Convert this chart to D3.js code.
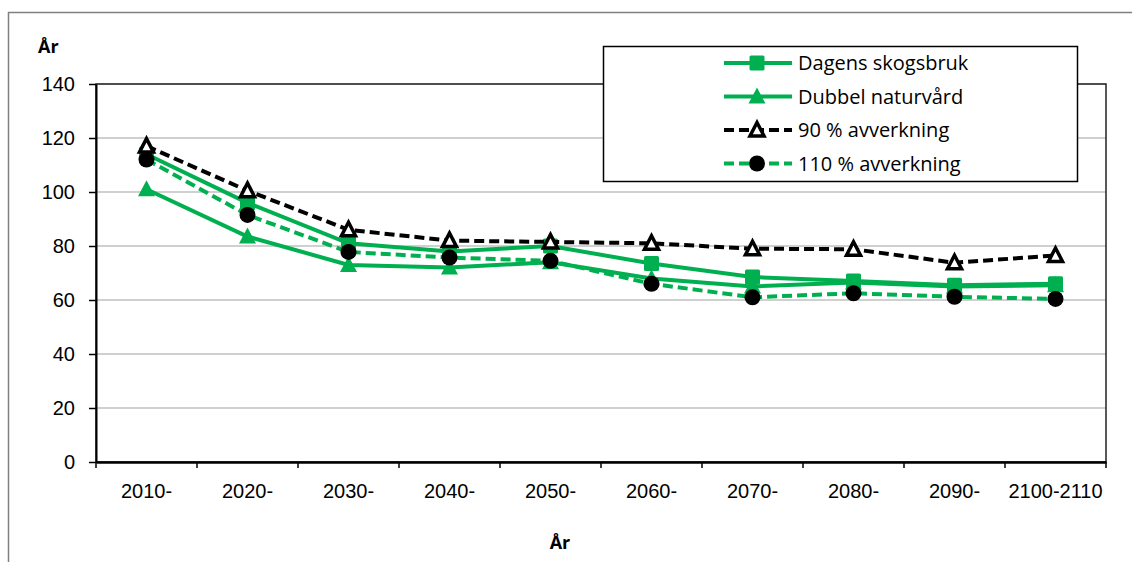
<!DOCTYPE html>
<html>
<head>
<meta charset="utf-8">
<script src="https://cdn.jsdelivr.net/npm/d3@7"></script>
<style>
  body { margin: 0; background: #fff; }
  svg { font-family: "Open Sans", sans-serif; }
</style>
</head>
<body>
<svg id="chart"></svg>
<script>
// kategorier och serier
const categories = ["2010-", "2020-", "2030-", "2040-", "2050-", "2060-", "2070-", "2080-", "2090-", "2100-2110"];
const dagensSkogsbruk = [114, 96, 81, 78, 80, 73.5, 68.5, 67, 65.5, 66];
const dubbelNaturvard = [101, 83.5, 73, 72, 74, 68, 65, 66.5, 65, 65.5];
const avverkning90 = [117, 100.5, 86, 82, 81.5, 81, 79, 78.8, 73.8, 76.5];
const avverkning110 = [112, 91.5, 77.8, 75.7, 74.5, 66, 61, 62.5, 61.2, 60.4];
const yTicks = [0, 20, 40, 60, 80, 100, 120, 140];

const series = [
  { name: "Dagens skogsbruk", values: dagensSkogsbruk, color: "#00b050", dash: null, marker: "square" },
  { name: "Dubbel naturvård", values: dubbelNaturvard, color: "#00b050", dash: null, marker: "triangle" },
  { name: "90 % avverkning", values: avverkning90, color: "#000", dash: "10,5", marker: "opentriangle" },
  { name: "110 % avverkning", values: avverkning110, color: "#00b050", dash: "10,5", marker: "circle" }
];

const width = 1132, height = 562;
const margin = { top: 84, right: 26, bottom: 100, left: 96 };

const svg = d3.select("#chart")
  .attr("width", width)
  .attr("height", height)
  .attr("viewBox", [0, 0, width, height]);

// yttre ram
svg.append("rect")
  .attr("x", 8.5).attr("y", 12.5)
  .attr("width", width + 20).attr("height", height + 20)
  .attr("fill", "none").attr("stroke", "#808080").attr("stroke-width", 1.5);

const x = d3.scaleBand().domain(categories).range([margin.left, width - margin.right]);
const y = d3.scaleLinear().domain([0, 140]).range([height - margin.bottom, margin.top]);

// rutnät
svg.append("g")
  .selectAll("line")
  .data(yTicks.filter(d => d > 0))
  .join("line")
  .attr("x1", margin.left).attr("x2", width - margin.right)
  .attr("y1", d => y(d)).attr("y2", d => y(d))
  .attr("stroke", "#c0c0c0").attr("stroke-width", 1.5);

// ram runt ritytan
svg.append("rect")
  .attr("x", margin.left).attr("y", y(140))
  .attr("width", width - margin.right - margin.left)
  .attr("height", y(0) - y(140))
  .attr("fill", "none").attr("stroke", "#222").attr("stroke-width", 1.5);

// Y-axel
const yAxis = svg.append("g")
  .attr("transform", `translate(${margin.left},0)`)
  .call(d3.axisLeft(y).tickValues(yTicks).tickSize(7).tickPadding(14).tickSizeOuter(0));
yAxis.select(".domain").attr("stroke", "#000").attr("stroke-width", 2);
yAxis.selectAll(".tick line").attr("stroke", "#000").attr("stroke-width", 1.5);
yAxis.selectAll(".tick text").attr("font-size", 20).attr("fill", "#000");

// X-axel
const xAxis = svg.append("g")
  .attr("transform", `translate(0,${y(0)})`)
  .call(d3.axisBottom(x).tickSize(0).tickPadding(22));
xAxis.select(".domain").attr("stroke", "#000").attr("stroke-width", 2.5);
xAxis.selectAll(".tick text").attr("font-size", 20).attr("fill", "#000");

// tickar vid kategorigränser
const bounds = categories.map(c => x(c)).concat([x(categories[categories.length - 1]) + x.bandwidth()]);
svg.append("g")
  .selectAll("line")
  .data(bounds)
  .join("line")
  .attr("x1", d => d).attr("x2", d => d)
  .attr("y1", y(0)).attr("y2", y(0) + 6)
  .attr("stroke", "#000").attr("stroke-width", 1.5);

// axeltitlar
svg.append("text")
  .attr("x", 38).attr("y", 53)
  .attr("font-size", 18).attr("font-weight", "bold")
  .text("År");
svg.append("text")
  .attr("x", 560).attr("y", 549)
  .attr("text-anchor", "middle")
  .attr("font-size", 18).attr("font-weight", "bold")
  .text("År");

const line = d3.line()
  .x((d, i) => x(categories[i]) + x.bandwidth() / 2)
  .y(d => y(d));

function drawMarker(g, type, color) {
  if (type === "square") {
    g.append("rect").attr("x", -7.5).attr("y", -7.5).attr("width", 15).attr("height", 15)
      .attr("rx", 1.5).attr("fill", color);
  } else if (type === "triangle") {
    g.append("path").attr("d", "M0,-9L8.5,7L-8.5,7Z").attr("fill", color);
  } else if (type === "opentriangle") {
    g.append("path").attr("d", "M0,-7.5L7,6L-7,6Z")
      .attr("fill", "#fff").attr("stroke", "#000").attr("stroke-width", 3.5).attr("stroke-linejoin", "miter");
  } else if (type === "circle") {
    g.append("circle").attr("r", 8).attr("fill", "#000");
  }
}

// serier
series.forEach(s => {
  svg.append("path")
    .attr("d", line(s.values))
    .attr("fill", "none")
    .attr("stroke", s.color)
    .attr("stroke-width", 4)
    .attr("stroke-dasharray", s.dash);
  s.values.forEach((v, i) => {
    const g = svg.append("g")
      .attr("transform", `translate(${x(categories[i]) + x.bandwidth() / 2},${y(v)})`);
    drawMarker(g, s.marker, s.color);
  });
});

// legend
const legend = svg.append("g");
legend.append("rect")
  .attr("x", 603.5).attr("y", 46.5).attr("width", 474).attr("height", 135)
  .attr("fill", "#fff").attr("stroke", "#000").attr("stroke-width", 1.5);

series.forEach((s, i) => {
  const cy = 63 + i * 33.5;
  const row = legend.append("g");
  row.append("line")
    .attr("x1", 724).attr("x2", 792).attr("y1", cy).attr("y2", cy)
    .attr("stroke", s.color).attr("stroke-width", 4)
    .attr("stroke-dasharray", s.dash ? "10,5" : null);
  const m = row.append("g").attr("transform", `translate(757,${cy})`);
  drawMarker(m, s.marker, s.color);
  row.append("text")
    .attr("x", 798).attr("y", cy)
    .attr("dy", "0.35em")
    .attr("font-size", 20)
    .text(s.name);
});
</script>
</body>
</html>
